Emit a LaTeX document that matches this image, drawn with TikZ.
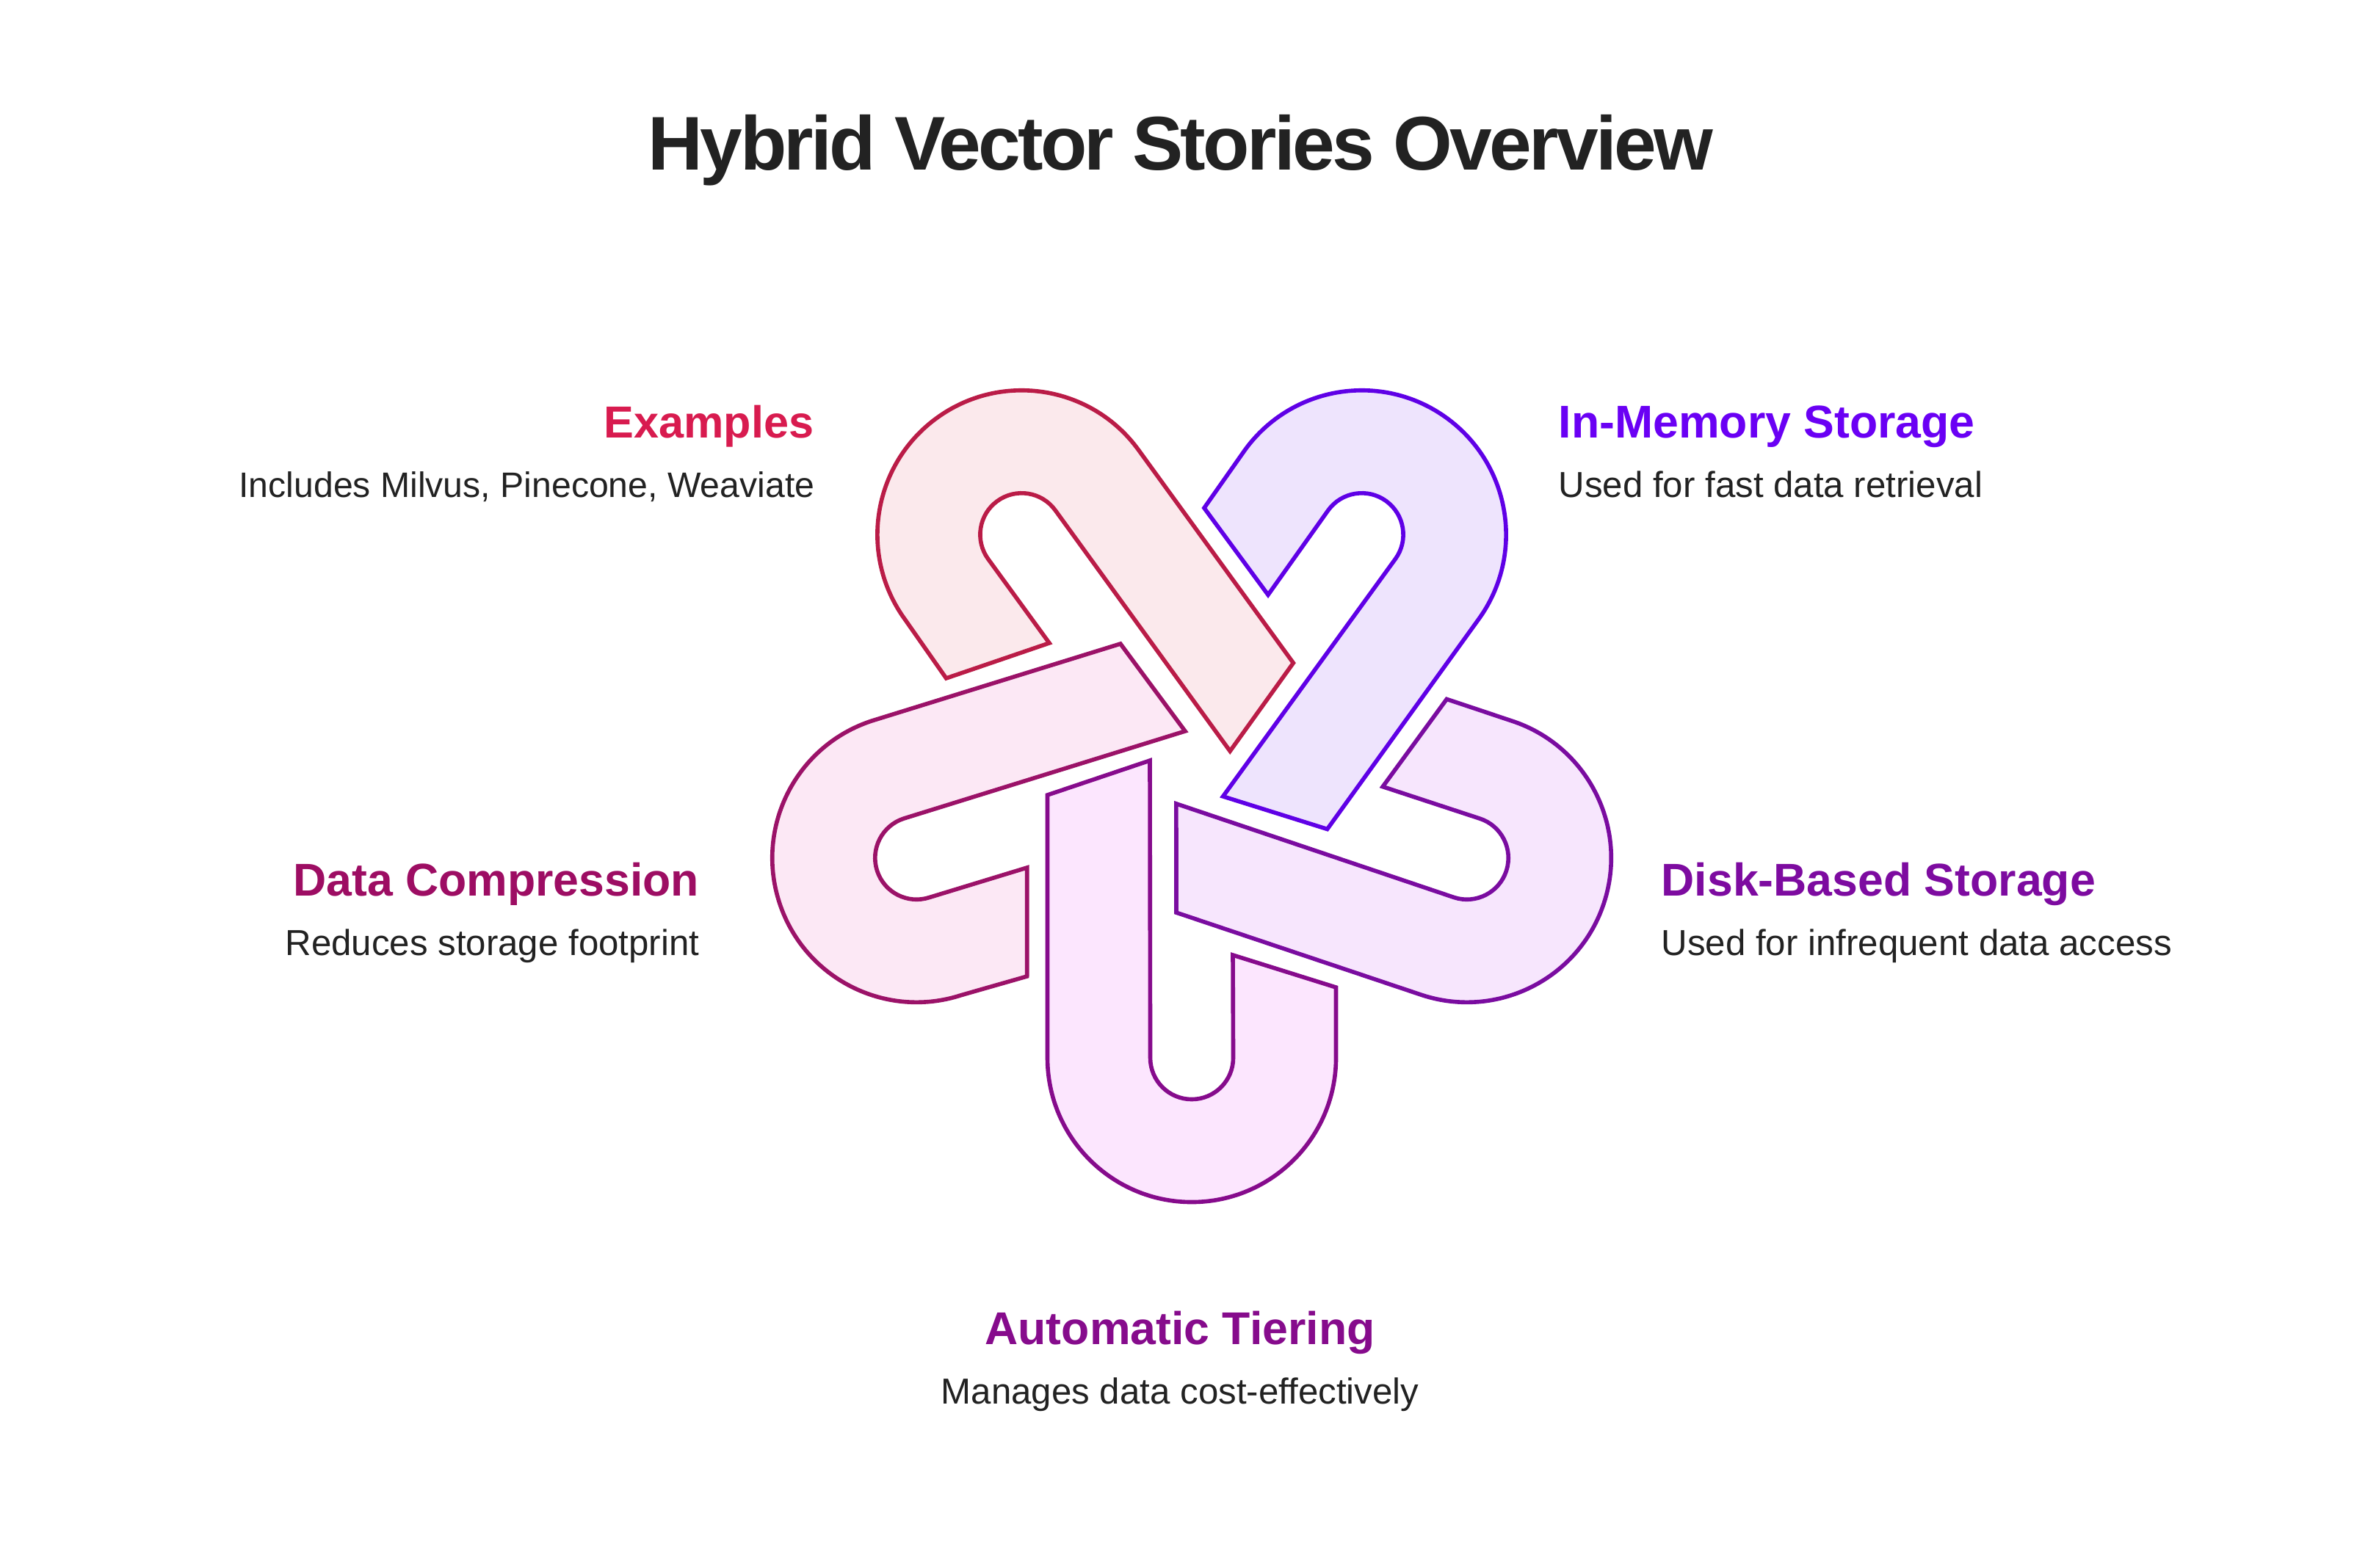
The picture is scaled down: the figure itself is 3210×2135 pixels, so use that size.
\documentclass[tikz,border=0pt]{standalone}
\usepackage{fontspec}
\setmainfont{Liberation Sans}
\definecolor{redline}{HTML}{BA1C47}
\definecolor{redfill}{HTML}{FBE9EC}
\definecolor{redtext}{HTML}{D81B4F}
\definecolor{violetline}{HTML}{5F00E6}
\definecolor{violetfill}{HTML}{EEE4FD}
\definecolor{violettext}{HTML}{6A00F4}
\definecolor{pinkline}{HTML}{9B1268}
\definecolor{pinkfill}{HTML}{FCE8F5}
\definecolor{pinktext}{HTML}{9D0D63}
\definecolor{plumline}{HTML}{7A0CA0}
\definecolor{plumfill}{HTML}{F7E6FD}
\definecolor{plumtext}{HTML}{7D0BA0}
\definecolor{mauveline}{HTML}{860B8C}
\definecolor{mauvefill}{HTML}{FCE6FE}
\definecolor{mauvetext}{HTML}{860B8C}
\definecolor{inkcolor}{HTML}{222222}
\tikzset{
  titletext/.style={inner sep=0pt,text=inkcolor,font=\fontsize{29.5}{36}\selectfont\bfseries\addfontfeatures{LetterSpace=-3.5}},
  headtext/.style={inner sep=0pt,font=\fontsize{17.8}{20}\selectfont\bfseries},
  subtext/.style={inner sep=0pt,text=inkcolor,font=\fontsize{14}{16}\selectfont},
  linkshape/.style={line width=1.6pt,miter limit=10},
}
\begin{document}
\begin{tikzpicture}[x=0.01cm,y=0.01cm]
  \useasboundingbox (0,0) rectangle (3210,-2135);
  % five links, one outline turned about the middle; the four leg tips differ a little
  \foreach \k/\edge/\body/\ax/\ay/\bx/\by/\cx/\cy/\dx/\dy in {
      0/mauveline/mauvefill/-196.5/-36/-57/11/56/-254/196.5/-298,
      1/plumline/plumfill/-193/-40.6/-52/5.3/57/-255/197.3/-301,
      2/violetline/violetfill/-197.8/-41.8/-56.7/5.6/55/-252.6/195/-297.2,
      3/redline/redfill/-196.5/-35.1/-56.2/11.4/56.4/-252.4/198.2/-296.1,
      4/pinkline/pinkfill/-191.7/-39.8/-51.3/7.2/59/-255/199.8/-300.8}
    \draw[linkshape,draw=\edge,fill=\body,shift={(1623,-1047)},rotate=72*\k]
      (\ax,\ay) -- (\bx,\by) -- (-56.5,-394) arc[start angle=180,end angle=360,radius=56.5]
      -- (\cx,\cy) -- (\dx,\dy) -- (196.5,-394) arc[start angle=0,end angle=-180,radius=196.5] -- cycle;
  \node[titletext,anchor=base] (title) at (1608,-231) {Hybrid Vector Stories Overview};
  \node[headtext,text=redtext,anchor=base east,font=\fontsize{17.4}{20}\selectfont\bfseries] (examples) at (1109,-596) {Examples};
  \node[subtext,anchor=base east,font=\fontsize{13.7}{16}\selectfont] (examplesnote) at (1110,-677) {Includes Milvus, Pinecone, Weaviate};
  \node[headtext,text=violettext,anchor=base west] (memory) at (2122,-596) {In-Memory Storage};
  \node[subtext,anchor=base west] (memorynote) at (2122,-677) {Used for fast data retrieval};
  \node[headtext,text=pinktext,anchor=base east] (compression) at (953,-1220) {Data Compression};
  \node[subtext,anchor=base east] (compressionnote) at (953,-1301) {Reduces storage footprint};
  \node[headtext,text=plumtext,anchor=base west] (disk) at (2262,-1220) {Disk-Based Storage};
  \node[subtext,anchor=base west] (disknote) at (2262,-1301) {Used for infrequent data access};
  \node[headtext,text=mauvetext,anchor=base] (tiering) at (1607,-1831) {Automatic Tiering};
  \node[subtext,anchor=base] (tieringnote) at (1607,-1912) {Manages data cost-effectively};
\end{tikzpicture}
\end{document}
